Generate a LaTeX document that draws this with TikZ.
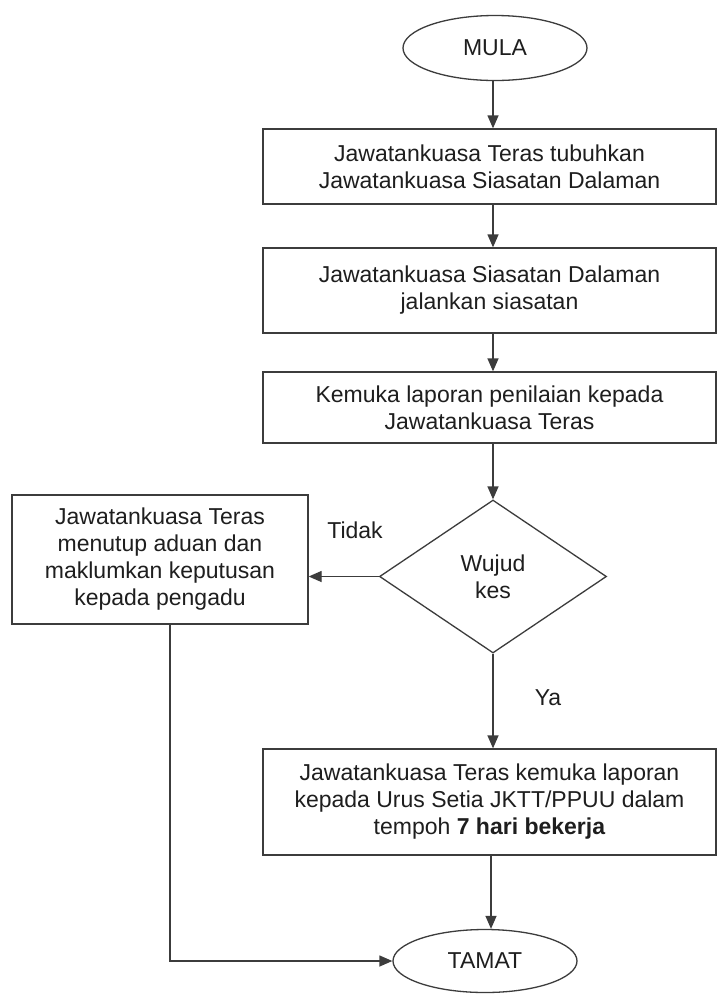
\documentclass[tikz,border=0pt]{standalone}
\usepackage{fontspec}
\setmainfont{Liberation Sans}
\usetikzlibrary{shapes.geometric,arrows.meta,calc}
\definecolor{ln}{HTML}{3C3C3C}
\definecolor{txt}{HTML}{1E1E1E}
\begin{document}
\begin{tikzpicture}[x=1pt,y=-1pt,
  every node/.style={font=\fontsize{23}{27}\selectfont, text=txt},
  proc/.style={draw=ln, line width=1.3pt, rectangle, minimum width=453pt, inner sep=0pt, align=center},
  term/.style={draw=ln, line width=1.3pt, ellipse, minimum width=184pt, minimum height=65pt, inner sep=0pt},
  dec/.style={draw=ln, line width=1.3pt, diamond, minimum width=227pt, minimum height=153pt, inner sep=0pt, align=center},
  flow/.style={draw=ln, line width=1.3pt, -{Triangle[length=13pt,width=11pt]}},
]
\useasboundingbox (0,0) rectangle (717,994);
\fill[white] (0,0) rectangle (717,994);
\coordinate (cx) at (493,0);
\coordinate (cx2) at (491,0);
\coordinate (lx) at (170,0);

\node[term] (mula) at (495,48) {MULA};
\node[proc, minimum height=75pt] (b1) at (489.5,166.5) {Jawatankuasa Teras tubuhkan\\Jawatankuasa Siasatan Dalaman};
\node[proc, minimum height=85pt] (b2) at (489.5,290.5) {Jawatankuasa Siasatan Dalaman\\jalankan siasatan};
\node[proc, minimum height=71pt] (b3) at (489.5,407.5) {Kemuka laporan penilaian kepada\\Jawatankuasa Teras};
\node[dec] (d) at (493,576.5) {Wujud\\kes};
\node[proc, minimum width=296pt, minimum height=129pt] (lb) at (160,559.5) {Jawatankuasa Teras\\menutup aduan dan\\maklumkan keputusan\\kepada pengadu};
\node[proc, minimum height=106pt] (b4) at (489.5,802) {Jawatankuasa Teras kemuka laporan\\kepada Urus Setia JKTT/PPUU dalam\\tempoh \textbf{7 hari bekerja}};
\node[term, minimum height=63pt] (tamat) at (485,961) {TAMAT};
\node (tidak) at (355,530) {Tidak};
\node (ya) at (548,698) {Ya};

\draw[flow] (mula.south -| cx) -- (b1.north -| cx);
\draw[flow] (b1.south -| cx) -- (b2.north -| cx);
\draw[flow] (b2.south -| cx) -- (b3.north -| cx);
\draw[flow] (b3.south -| cx) -- (d.north);
\draw[flow] (d.west) -- (lb.east |- d.west);
\draw[flow] (d.south) -- (b4.north -| cx);
\draw[flow] (b4.south -| cx2) -- (tamat.north -| cx2);
\draw[flow] (lb.south -| lx) |- (tamat.west);
\end{tikzpicture}
\end{document}
